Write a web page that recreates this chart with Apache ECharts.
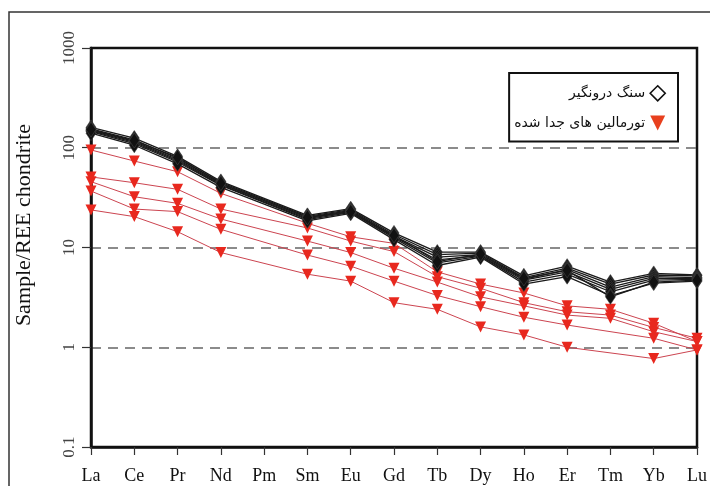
<!DOCTYPE html>
<html><head><meta charset="utf-8">
<script src="https://cdn.jsdelivr.net/npm/echarts@6/dist/echarts.min.js"></script>
<style>html,body{margin:0;padding:0;background:#fff}#c{width:710px;height:486px}</style>
</head><body><div id="c"></div>
<script>
const categories = ['La','Ce','Pr','Nd','Pm','Sm','Eu','Gd','Tb','Dy','Ho','Er','Tm','Yb','Lu'];
const yTicks = [0.1, 1, 10, 100, 1000];
const hostName = 'سنگ درونگیر';
const tourName = 'تورمالین های جدا شده';

// host rock (black diamonds)
const host1 = [160, 125, 82, 46, null, 21, 24.5, 14, 9, 9, 5.2, 6.5, 4.5, 5.5, 5.3];
const host2 = [155, 120, 78, 45, null, 20.5, 24, 13.5, 8.5, 8.8, 5.0, 6.2, 4.3, 5.3, 5.2];
const host3 = [150, 116, 76, 43.5, null, 20, 23.5, 13, 8, 8.5, 4.8, 6.0, 4.0, 5.1, 5.0];
const host4 = [148, 113, 74, 42.5, null, 19.5, 23, 12.8, 7.5, 8.3, 4.7, 5.7, 3.8, 4.9, 4.9];
const host5 = [145, 110, 72, 42, null, 19, 22.5, 12.5, 7, 8.2, 4.5, 5.4, 3.6, 4.7, 4.8];
const host6 = [140, 106, 69, 40, null, 18.5, 22, 12, 6.6, 8, 4.3, 5.1, 3.3, 4.4, 4.6];
const host7 = [152, 118, 80, 44, null, 20, 22.8, 13.2, 7.2, 8.6, 4.9, 5.9, 3.2, 4.5, 4.7];

// separated tourmalines (red triangles)
const tour1 = [95, 73.6, 57.5, 34.9, null, 17.5, 12.8, 11.0, 5.7, 4.3, 3.5, 2.6, 2.4, 1.74, 1.14];
const tour2 = [51, 44.6, 38.3, 24.3, null, 15.7, 11.6, 9.1, 5.1, 3.9, 2.8, 2.27, 2.1, 1.58, 1.23];
const tour3 = [45.7, 32.3, 27.7, 19.3, null, 11.6, 8.9, 6.2, 4.5, 3.2, 2.6, 2.1, 1.95, 1.43, 1.14];
const tour4 = [36.8, 24.3, 22.9, 15.2, null, 8.4, 6.5, 4.6, 3.3, 2.55, 2.0, 1.67, null, 1.23, 0.94];
const tour5 = [23.8, 20.4, 14.4, 8.9, null, 5.4, 4.6, 2.8, 2.4, 1.6, 1.33, 1.0, null, 0.77, 0.94];

const hostSets = [host1, host2, host3, host4, host5, host6, host7];
const tourSets = [tour1, tour2, tour3, tour4, tour5];

const serif = 'Liberation Serif';
const series = [];
hostSets.forEach(d => series.push({
  name: hostName, type: 'line', data: d, connectNulls: true,
  symbol: 'diamond', symbolSize: [10, 15],
  itemStyle: { color: '#111', borderColor: '#444', borderWidth: 0.6 },
  lineStyle: { color: '#1a1a1a', width: 1.3 }, z: 3
}));
tourSets.forEach(d => series.push({
  name: tourName, type: 'line', data: d, connectNulls: true,
  symbol: 'triangle', symbolRotate: 180, symbolSize: 11,
  itemStyle: { color: '#e8281e' },
  lineStyle: { color: '#cc4450', width: 1 }, z: 2
}));

const chart = echarts.init(document.getElementById('c'));
chart.setOption({
  animation: false,
  backgroundColor: '#fff',
  graphic: [{
    type: 'rect', shape: { x: 9, y: 12, width: 740, height: 520 },
    style: { fill: 'none', stroke: '#333', lineWidth: 1.5 }, silent: true, z: -1
  }],
  grid: { left: 91, right: 8, top: 48, bottom: 39, show: true, borderColor: '#111', borderWidth: 2.5, backgroundColor: 'transparent' },
  legend: {
    right: 32, top: 73, orient: 'vertical', align: 'right',
    borderColor: '#111', borderWidth: 2, padding: [12, 12, 11, 5], itemGap: 14,
    itemWidth: 15, itemHeight: 15,
    textStyle: { fontFamily: 'DejaVu Sans', fontSize: 14, color: '#111' },
    data: [
      { name: hostName, icon: 'diamond', itemStyle: { color: '#fff', borderColor: '#111', borderWidth: 1.6 } },
      { name: tourName, icon: 'path://M0,0 L10,0 L5,10 Z', itemStyle: { color: '#e8401e', borderWidth: 0 } }
    ]
  },
  xAxis: {
    type: 'category', data: categories, boundaryGap: false,
    axisLine: { show: true, lineStyle: { color: '#111', width: 2.5 } },
    axisTick: { show: true, inside: false, length: 8, lineStyle: { color: '#333', width: 1.2 } },
    axisLabel: { margin: 20, fontFamily: serif, fontSize: 18, color: '#111', interval: 0 },
    splitLine: { show: false }
  },
  yAxis: {
    type: 'log', logBase: 10, min: yTicks[0], max: yTicks[yTicks.length - 1],
    name: 'Sample/REE chondrite', nameLocation: 'middle', nameRotate: 90, nameGap: 56,
    nameTextStyle: { fontFamily: serif, fontSize: 22, color: '#111', padding: [0, 0, 0, 45] },
    axisLine: { show: true, lineStyle: { color: '#111', width: 2.5 } },
    axisTick: { show: true, inside: false, length: 9, lineStyle: { color: '#333', width: 1.2 } },
    axisLabel: { rotate: 90, margin: 13, fontFamily: serif, fontSize: 17, color: '#444',
      formatter: v => String(v) },
    splitLine: { show: true, showMinLine: false, showMaxLine: false,
      lineStyle: { color: '#666', width: 1.6, type: [10, 7] } }
  },
  series: series
});
</script></body></html>
